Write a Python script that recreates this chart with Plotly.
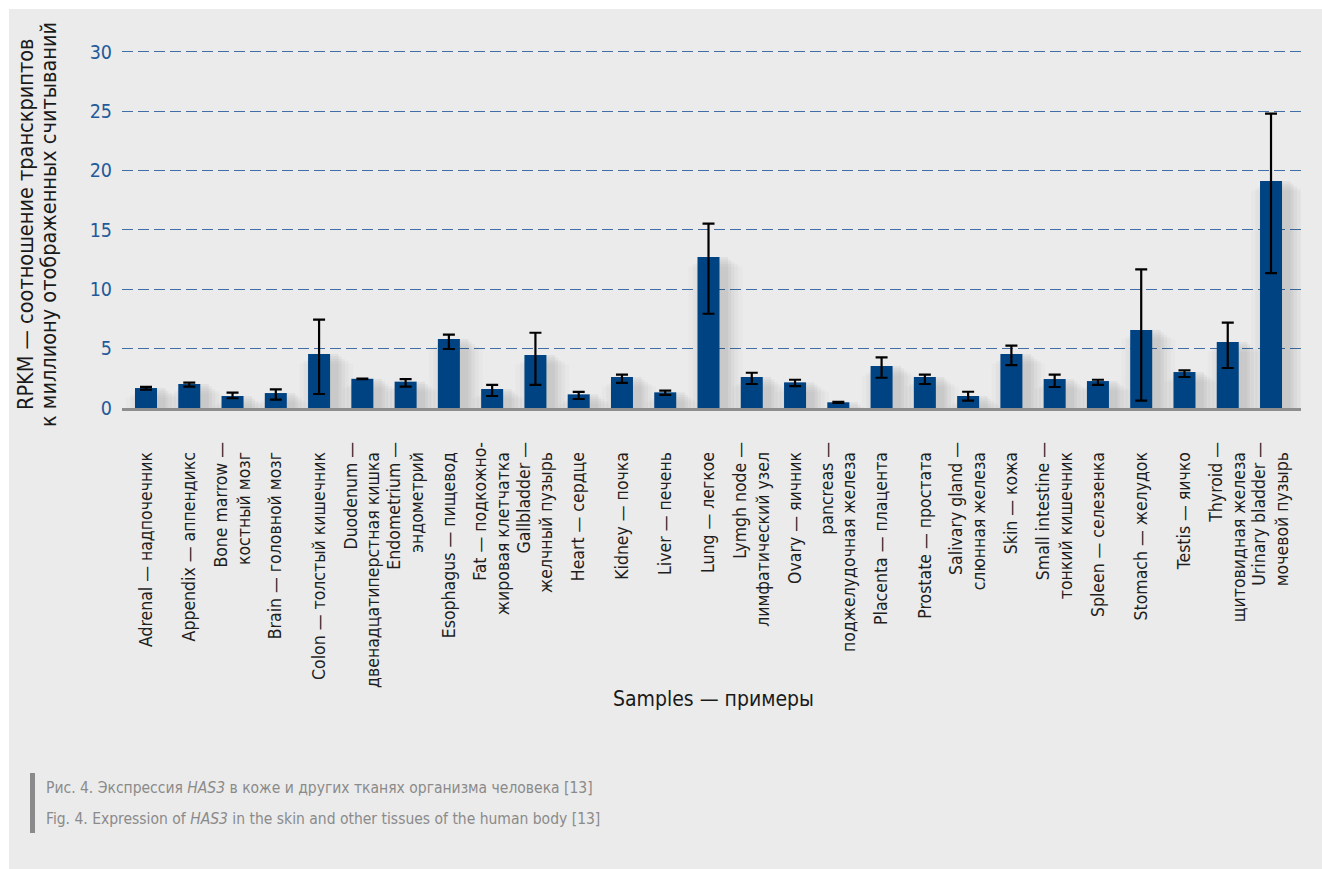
import plotly.graph_objects as go

# ---- data -------------------------------------------------------------
tissue_labels = [
    "Adrenal — надпочечник", "Appendix — аппендикс", "Bone marrow —\nкостный мозг",
    "Brain — головной мозг", "Colon — толстый кишечник",
    "Duodenum —\nдвенадцатиперстная кишка", "Endometrium —\nэндометрий",
    "Esophagus — пищевод", "Fat — подкожно-\nжировая клетчатка",
    "Gallbladder —\nжелчный пузырь", "Heart — сердце", "Kidney — почка",
    "Liver — печень", "Lung — легкое", "Lymgh node —\nлимфатический узел",
    "Ovary — яичник", "pancreas —\nподжелудочная железа", "Placenta — плацента",
    "Prostate — простата", "Salivary gland —\nслюнная железа", "Skin — кожа",
    "Small intestine —\nтонкий кишечник", "Spleen — селезенка", "Stomach — желудок",
    "Testis — яичко", "Thyroid —\nщитовидная железа", "Urinary bladder —\nмочевой пузырь",
]
rpkm = [1.68, 2.02, 1.01, 1.26, 4.55, 2.46, 2.22, 5.81, 1.60, 4.47, 1.15, 2.61, 1.32,
        12.72, 2.61, 2.16, 0.48, 3.54, 2.61, 1.01, 4.55, 2.44, 2.27, 6.57, 3.03, 5.56, 19.12]
err_plus = [0.10, 0.11, 0.28, 0.31, 2.89, 0.02, 0.22, 0.37, 0.34, 1.87, 0.20, 0.20, 0.14,
            2.81, 0.36, 0.22, 0.04, 0.73, 0.20, 0.36, 0.70, 0.37, 0.11, 5.11, 0.14, 1.63, 5.67]
err_minus = [0.13, 0.22, 0.19, 0.56, 3.37, 0.02, 0.42, 0.84, 0.59, 2.53, 0.39, 0.50, 0.22,
             4.78, 0.59, 0.31, 0.04, 0.99, 0.59, 0.39, 0.93, 0.67, 0.33, 5.95, 0.42, 2.19, 7.75]
y_ticks = [0, 5, 10, 15, 20, 25, 30]

y_title_lines = ["RPKM — соотношение транскриптов", "к миллиону отображенных считываний"]
x_title = "Samples — примеры"
caption_lines = [
    "Рис. 4. Экспрессия <i>HAS3</i> в коже и других тканях организма человека [13]",
    "Fig. 4. Expression of <i>HAS3</i> in the skin and other tissues of the human body [13]",
]

# ---- geometry of the page ----------------------------------------------
W, H = 1322, 869
ML, MR, MT, MB = 122, 21, 40, 461
PW, PH = W - ML - MR, H - MT - MB
STEP = 43.27                     # pixels per category
X0 = -24 / STEP                  # first category sits 24 px right of the axis start
X1 = X0 + PW / STEP


def px_x(p):
    return (p - ML) / PW


def px_y(p):
    return (MT + PH - p) / PH


NARROW = "DejaVu Sans Condensed, Liberation Sans Narrow, sans-serif"
NBSP = "\u00a0"


def tick_text(label):
    # every line but the leading "English —" line of a two-line label gets a
    # small tail, so the dash of that leading line sticks out above the rest
    lines = label.split("\n")
    if len(lines) == 1:
        return lines[0] + NBSP * 2
    return "<br>".join([lines[0]] + [ln + NBSP * 2 for ln in lines[1:]])


cats = [tick_text(s) for s in tissue_labels]

fig = go.Figure()

# soft drop shadow under each bar
bar_w = 22 / STEP
shift = 7 / STEP
for k, (w, a) in enumerate([(0.58, 0.045), (0.72, 0.035), (0.88, 0.028),
                            (1.05, 0.022), (1.25, 0.016)]):
    fig.add_trace(go.Bar(
        x=cats, y=[max(v - 0.2 * k, 0) for v in rpkm],
        width=w, offset=-w / 2 + shift,
        marker=dict(color=f"rgba(0,0,0,{a})", line=dict(width=0)),
        hoverinfo="skip", showlegend=False,
    ))

fig.add_trace(go.Bar(
    x=cats, y=rpkm, width=bar_w,
    marker=dict(color="#004383", line=dict(width=0)),
    error_y=dict(type="data", array=err_plus, arrayminus=err_minus, symmetric=False,
                 color="#000000", thickness=2.2, width=6),
    showlegend=False,
))

annotations = []
# y-axis title (two lines, tight leading)
for line, xp in zip(y_title_lines, [25, 48]):
    annotations.append(dict(
        text=line, xref="paper", yref="paper", x=px_x(xp), y=px_y(225),
        xanchor="center", yanchor="middle", textangle=-90, showarrow=False,
        font=dict(family=NARROW, size=21.5, color="#1a1a1a"),
    ))
# x-axis title
annotations.append(dict(
    text=x_title, xref="paper", yref="paper", x=px_x(713), y=px_y(699),
    xanchor="center", yanchor="middle", showarrow=False,
    font=dict(family=NARROW, size=21, color="#1a1a1a"),
))
# caption
for line, yp in zip(caption_lines, [788, 819]):
    annotations.append(dict(
        text=line, xref="paper", yref="paper", x=px_x(44), y=px_y(yp),
        xanchor="left", yanchor="middle", showarrow=False,
        font=dict(family=NARROW, size=15.5, color="#8a8a8a"),
    ))

shapes = [
    # grey panel
    dict(type="rect", xref="paper", yref="paper", layer="below",
         x0=px_x(9), x1=px_x(W + 5), y0=px_y(H + 5), y1=px_y(9),
         fillcolor="#ebebeb", line=dict(width=0)),
    # caption marker bar
    dict(type="rect", xref="paper", yref="paper",
         x0=px_x(30), x1=px_x(35), y0=px_y(833), y1=px_y(773),
         fillcolor="#8a8a8a", line=dict(width=0)),
]

fig.update_layout(
    width=W, height=H, margin=dict(l=ML, r=MR, t=MT, b=MB, autoexpand=False),
    paper_bgcolor="#ffffff", plot_bgcolor="rgba(0,0,0,0)",
    barmode="overlay", showlegend=False,
    annotations=annotations, shapes=shapes,
    xaxis=dict(
        type="category", range=[X0, X1], showgrid=False, zeroline=False,
        showline=True, linecolor="#8e8e8e", linewidth=3, ticks="",
        tickangle=-90, ticklabelstandoff=24,
        tickfont=dict(family=NARROW, size=17.5, color="#1e1e1e"),
    ),
    yaxis=dict(
        range=[0, 31], tickvals=y_ticks, showgrid=True, gridcolor="#3f6fa6",
        gridwidth=1.4, griddash="11px,5px", zeroline=False, showline=False, ticks="",
        ticklabelstandoff=9,
        tickfont=dict(family=NARROW, size=19.5, color="#1f5a9a"),
    ),
)

fig.write_html("out.html")
